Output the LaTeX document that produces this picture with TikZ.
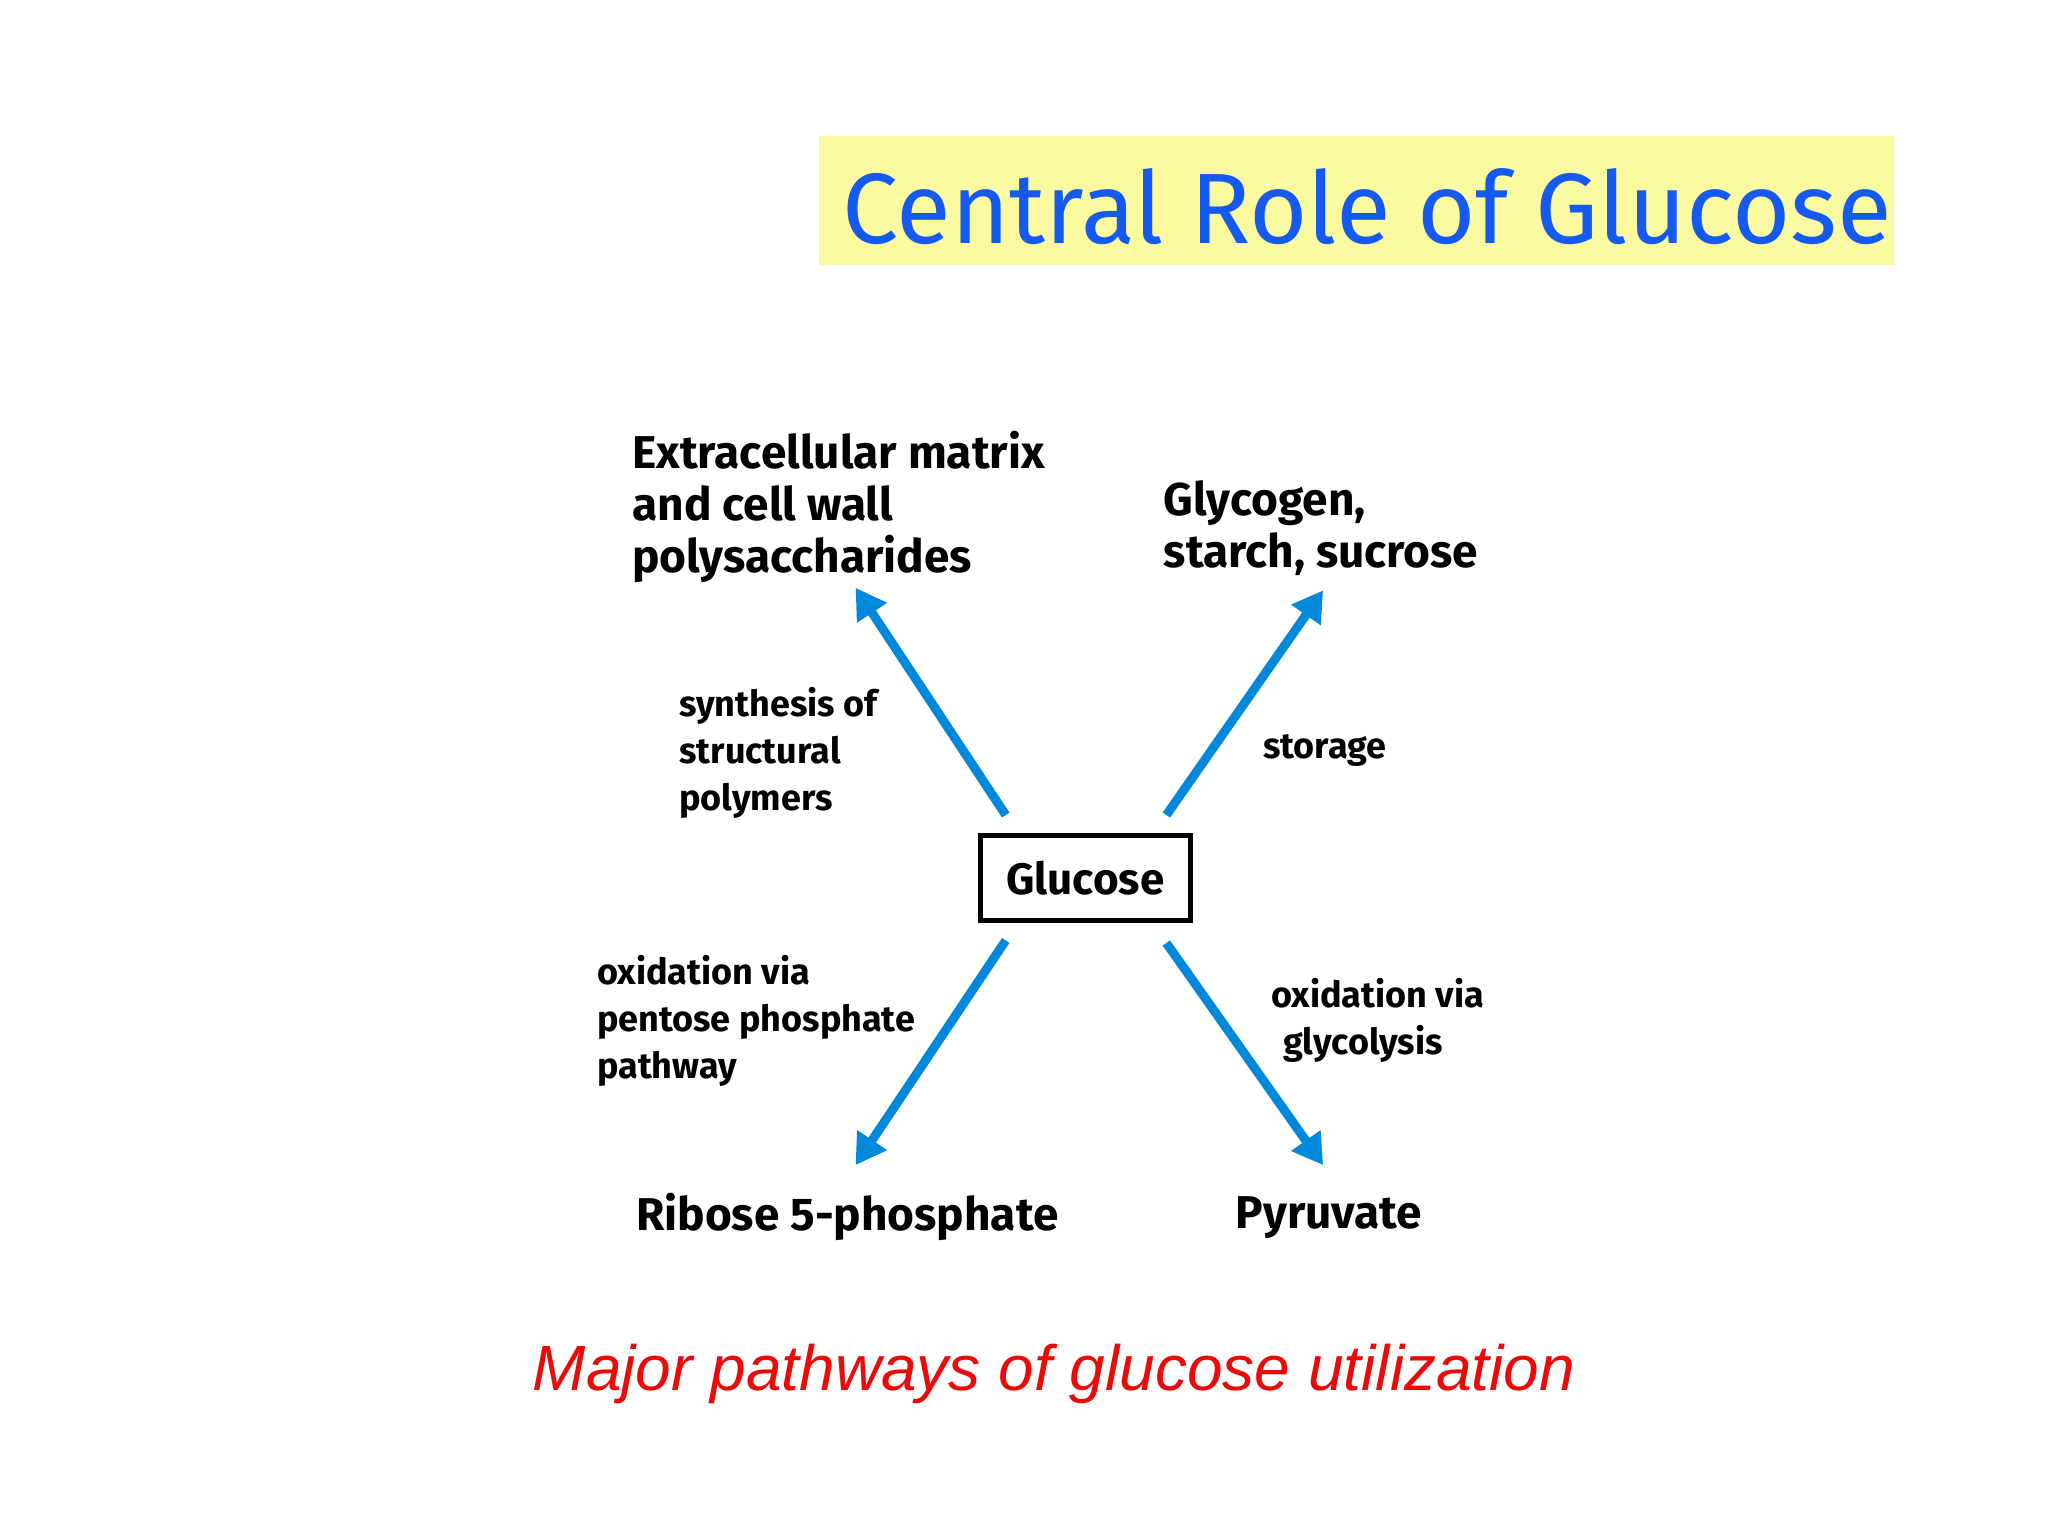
\documentclass[tikz,border=0pt]{standalone}
\usepackage{fontspec}
\setmainfont{Fira Sans}
\newfontfamily\titlefont{Fira Sans}
\newfontfamily\capfont{Liberation Sans}
\usetikzlibrary{arrows.meta}
\definecolor{arrblue}{RGB}{0,136,218}
\definecolor{titleblue}{RGB}{20,90,240}
\definecolor{titlebg}{RGB}{252,250,160}
\definecolor{capred}{RGB}{235,10,10}
\tikzset{
  big/.style={font=\fontsize{46}{52}\selectfont\bfseries, align=left, inner sep=0pt},
  small/.style={font=\fontsize{36}{47}\selectfont\bfseries, align=left, inner sep=0pt},
  path/.style={arrblue, line width=9pt, -{Triangle[length=30pt,width=34pt]}}
}
\begin{document}
\begin{tikzpicture}[x=1.306pt,y=-1.306pt]
\useasboundingbox (0,0) rectangle (1568,1176);
\fill[white] (0,0) rectangle (1568,1176);
\fill[titlebg] (627,104) rectangle (1450,203);
\node[anchor=west, inner sep=0pt, text=titleblue, font=\titlefont\fontsize{100}{110}\selectfont] (title) at (645,158) {Central Role of Glucose};
\node[draw, line width=5pt, minimum width=161*1.306pt, minimum height=65*1.306pt, font=\fontsize{44}{50}\selectfont\bfseries] (glu) at (831,672) {Glucose};
\node[big, anchor=north west] (ecm) at (484,330) {Extracellular matrix\\and cell wall\\polysaccharides};
\node[big, anchor=north west] (gly) at (891,368) {Glycogen,\\starch, sucrose};
\node[big, anchor=west] (rib) at (487,932) {Ribose 5-phosphate};
\node[big, anchor=west] (pyr) at (946,932) {Pyruvate};
\node[small, anchor=north west] (syn) at (520,526) {synthesis of\\structural\\polymers};
\node[small, anchor=west] (sto) at (967,575) {storage};
\node[small, anchor=north west] (ppp) at (457,731) {oxidation via\\pentose phosphate\\pathway};
\node[small, anchor=north west] (glyc) at (973,749) {oxidation via\\\hspace*{12pt}glycolysis};
\coordinate (a1s) at (770,624); \coordinate (a1e) at (655,450);
\coordinate (a2s) at (893,624); \coordinate (a2e) at (1013,452);
\coordinate (a3s) at (770,720); \coordinate (a3e) at (655,892);
\coordinate (a4s) at (893,722); \coordinate (a4e) at (1013,892);
\draw[path] (a1s) -- (a1e);
\draw[path] (a2s) -- (a2e);
\draw[path] (a3s) -- (a3e);
\draw[path] (a4s) -- (a4e);
\node[text=capred, inner sep=0pt, font=\capfont\itshape\fontsize{64}{70}\selectfont] (cap) at (807,1052) {Major pathways of glucose utilization};
\end{tikzpicture}
\end{document}
